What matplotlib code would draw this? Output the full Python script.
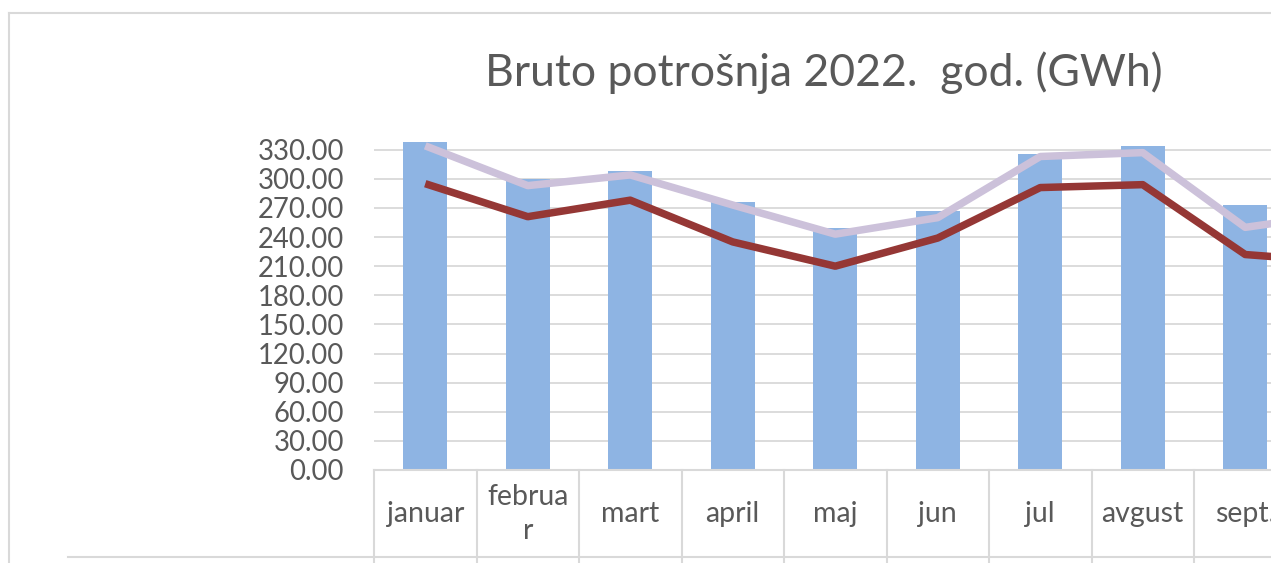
import numpy as np
import matplotlib
matplotlib.use("Agg")
import matplotlib.pyplot as plt
from matplotlib.lines import Line2D
import matplotlib.transforms as mtransforms

plt.rcParams['font.family'] = ['Lato', 'DejaVu Sans']

# ---- data ----
months = ["januar", "februa\nr", "mart", "april", "maj", "jun", "jul", "avgust", "sept.", "oktobar"]
bruto = [338, 300, 308, 276, 249, 267, 326, 334, 273, np.nan]
series_light = [334, 293, 304, 273, 243, 260, 323, 327, 250, 265]
series_dark = [295, 261, 278, 235, 210, 239, 291, 294, 222, 214]
yticks = list(range(0, 331, 30))

title = "Bruto potrošnja 2022.  god. (GWh)"

TXT = "#595959"
GRID = "#D9D9D9"

W, H = 1271, 563
fig = plt.figure(figsize=(W / 100, H / 100), dpi=100)

left_px, right_px, top_px, bot_px = 374, 1271, 140, 470
ax = fig.add_axes([left_px / W, 1 - bot_px / H, (right_px - left_px) / W, (bot_px - top_px) / H])

x = np.arange(len(months))
ax.bar(x, bruto, width=0.43, color="#8EB4E3", zorder=2)
ax.plot(x, series_light, color="#CCC1DA", lw=5.4, solid_capstyle="butt", solid_joinstyle="round", zorder=3)
ax.plot(x, series_dark, color="#953735", lw=5.4, solid_capstyle="butt", solid_joinstyle="round", zorder=4)

cat_w = 102.5
xmax = -0.5 + (right_px - left_px) / cat_w
ax.set_xlim(-0.5, xmax)
ax.set_ylim(0, 340)
ax.set_yticks(yticks)
ax.set_yticklabels([f"{v:.2f}" for v in yticks], color=TXT, fontsize=19.8)
ax.tick_params(axis="y", length=0, pad=21.6)
ax.set_xticks([])
ax.yaxis.grid(True, color=GRID, lw=1.3, zorder=0)
ax.set_axisbelow(True)
for s in ["top", "right", "left"]:
    ax.spines[s].set_visible(False)
ax.spines["bottom"].set_color(GRID)
ax.spines["bottom"].set_linewidth(1.5)

# category label table
trans = mtransforms.blended_transform_factory(ax.transData, ax.transAxes)
ax_h = bot_px - top_px
y_end = -(H - bot_px + 5) / ax_h
for b in np.arange(-0.5, len(months), 1.0):
    if b <= xmax:
        ax.add_line(Line2D([b, b], [0, y_end], transform=trans, color=GRID, lw=1.5, clip_on=False))
for i, m in enumerate(months):
    if i <= xmax:
        ax.text(i, -(514 - bot_px) / ax_h, m, transform=trans, ha="center", va="center",
                color=TXT, fontsize=20.5, linespacing=1.4, clip_on=False)

# bottom line of the label table and outer border
fig.add_artist(Line2D([68 / W, 1], [1 - 557 / H, 1 - 557 / H], color=GRID, lw=1.5))
fig.add_artist(Line2D([9 / W, 9 / W], [0, 1 - 13 / H], color=GRID, lw=1.5))
fig.add_artist(Line2D([9 / W, 1], [1 - 13 / H, 1 - 13 / H], color=GRID, lw=1.5))

fig.text(824 / W, 1 - 73 / H, title, ha="center", va="center", color=TXT, fontsize=32)

fig.savefig("out.png", dpi=100)
